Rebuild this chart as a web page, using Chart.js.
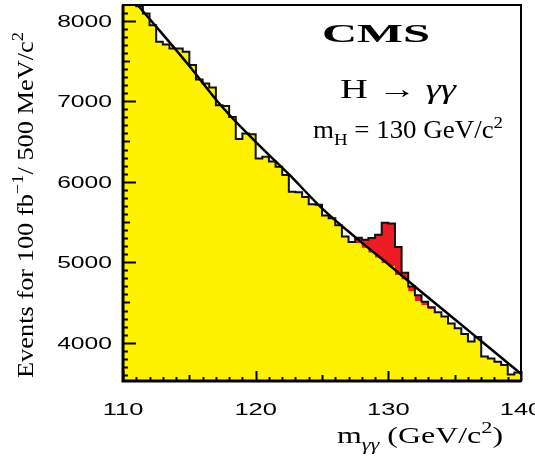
<!DOCTYPE html>
<html>
<head>
<meta charset="utf-8">
<script src="https://cdn.jsdelivr.net/npm/chart.js@4/dist/chart.umd.min.js"></script>
<style>
  html, body { margin: 0; padding: 0; background: #fff; }
  #wrap { width: 535px; height: 456px; }
</style>
</head>
<body>
<div id="wrap"><canvas id="massChart" width="535" height="456"></canvas></div>
<script>
/* ── data ── */
const binEdges = Array.from({ length: 61 }, (_, i) => 110 + i * 0.5);   // 500 MeV bins, 110–140 GeV

const background = [
  8300, 8250, 8180, 8090, 7945, 7740, 7705, 7655, 7655, 7615,
  7450, 7270, 7220, 7170, 6950, 6940, 6805, 6530, 6600, 6590,
  6290, 6310, 6250, 6185, 6085, 5875, 5870, 5810, 5720, 5715,
  5580, 5545, 5460, 5320, 5250, 5240, 5180, 5120, 5060, 4990,
  4950, 4840, 4790, 4640, 4520, 4470, 4420, 4380, 4325, 4240,
  4180, 4110, 4015, 4070, 3830, 3805, 3765, 3725, 3605, 3630,
];

const signal = [
  0, 0, 0, 0, 0, 0, 0, 0, 0, 0,
  0, 0, 0, 0, 0, 0, 0, 0, 0, 0,
  0, 0, 0, 0, 0, 0, 0, 0, 0, 0,
  0, 0, 0, 0, 0, 65, 100, 180, 280, 500,
  530, 350, 80, 60, 70, 40, 20, 0, 0, 0,
  0, 0, 0, 0, 0, 0, 0, 0, 0, 0,
];

const fitMass   = [111, 113, 115, 117.5, 120, 122.5, 125, 127.5, 130, 132.5, 135, 137.5, 140];
const fitEvents = [8215, 7830, 7438, 6925, 6495, 6093, 5670, 5312, 4975, 4630, 4292, 3953, 3615];

const xTicks = [110, 120, 130, 140];
const yTicks = [4000, 5000, 6000, 7000, 8000];

/* ── helpers ── */
function stepPoints(values) {
  const pts = values.map((v, i) => ({ x: binEdges[i], y: v }));
  pts.push({ x: binEdges[binEdges.length - 1], y: values[values.length - 1] });
  return pts;
}

const total = background.map((b, i) => b + signal[i]);

/** draw a string made of runs (sub/superscripts), stretched along the text */
function drawRuns(ctx, runs, x, y, o) {
  ctx.save();
  ctx.translate(x, y);
  if (o.angle) ctx.rotate(o.angle);
  const fontFor = (r) =>
    `${r[3] ? 'italic ' : ''}${o.weight || 'normal'} ${o.size * (r[1] || 1)}px ${o.family}`;
  let sum = 0;
  const widths = runs.map((r) => {
    ctx.font = fontFor(r);
    const w = ctx.measureText(r[0]).width;
    sum += w;
    return w;
  });
  const sx = o.width ? o.width / sum : (o.sx || 1);
  ctx.scale(sx, 1);
  let cx = o.align === 'center' ? -sum / 2 : o.align === 'right' ? -sum : 0;
  ctx.textAlign    = 'left';
  ctx.textBaseline = 'alphabetic';
  ctx.fillStyle    = '#000';
  runs.forEach((r, i) => {
    ctx.font = fontFor(r);
    ctx.fillText(r[0], cx, (r[2] || 0) * o.size);
    cx += widths[i];
  });
  ctx.restore();
}

const SERIF = '"Liberation Serif", "DejaVu Serif", serif';
const SANS  = '"Liberation Sans", Arial, sans-serif';

/* ── frame, ticks and text ── */
const decorations = {
  id: 'decorations',
  afterDraw(chart) {
    const { ctx, chartArea: a, scales: { x, y } } = chart;
    ctx.save();
    ctx.strokeStyle = '#000';
    ctx.lineWidth = 2;

    // y ticks (inside, on the left)
    for (let v = 3600; v <= 8100; v += 100) {
      const py = Math.round(y.getPixelForValue(v)) + 0.5;
      const len = v % 1000 === 0 ? 13 : v % 500 === 0 ? 7 : 5;
      ctx.beginPath();
      ctx.moveTo(a.left, py);
      ctx.lineTo(a.left + len, py);
      ctx.stroke();
    }
    // x ticks (inside, on the bottom)
    for (let v = 110; v <= 140; v += 1) {
      const px = Math.round(x.getPixelForValue(v)) + 0.5;
      const len = v % 10 === 0 ? 10 : v % 5 === 0 ? 6 : 4;
      ctx.beginPath();
      ctx.moveTo(px, a.bottom);
      ctx.lineTo(px, a.bottom - len);
      ctx.stroke();
    }

    // frame
    ctx.lineWidth = 2;
    ctx.strokeRect(a.left, a.top, a.right - a.left, a.bottom - a.top);
    ctx.lineWidth = 3;
    ctx.beginPath();
    ctx.moveTo(a.left, a.top);
    ctx.lineTo(a.left, a.bottom);
    ctx.lineTo(a.right, a.bottom);
    ctx.stroke();
    ctx.restore();

    // tick labels
    yTicks.forEach((v) => {
      drawRuns(ctx, [[String(v)]], 112, y.getPixelForValue(v) + 6,
        { size: 17, family: SANS, sx: 1.45, align: 'right' });
    });
    xTicks.forEach((v) => {
      drawRuns(ctx, [[String(v)]], x.getPixelForValue(v), 415,
        { size: 17, family: SANS, sx: 1.5, align: 'center' });
    });

    // axis titles
    drawRuns(ctx, [
      ['m'], ['γγ', 0.7, 0.28, true], [' (GeV/c'], ['2', 0.7, -0.42], [')'],
    ], 337, 443, { size: 24, family: SERIF, width: 166, align: 'left' });

    drawRuns(ctx, [
      ['Events for 100 fb'], ['−1', 0.7, -0.42], ['/ 500 MeV/c'], ['2', 0.7, -0.42],
    ], 33, 205, { size: 24, family: SERIF, width: 346, align: 'center', angle: -Math.PI / 2 });

    // labels in the plot
    drawRuns(ctx, [['CMS']], 376, 42,
      { size: 25, family: SERIF, weight: 'bold', width: 108, align: 'center' });
    drawRuns(ctx, [['H → '], ['γγ', 1, 0, true]], 340, 98,
      { size: 27, family: SERIF, width: 116, align: 'left' });
    drawRuns(ctx, [['m'], ['H', 0.7, 0.28], [' = 130 GeV/c'], ['2', 0.7, -0.42]], 313, 138,
      { size: 25, family: SERIF, width: 190, align: 'left' });
  },
};

/* ── chart ── */
new Chart(document.getElementById('massChart'), {
  type: 'line',
  data: {
    datasets: [
      {
        label: 'signal + background',
        data: stepPoints(total),
        stepped: 'before',
        fill: 'origin',
        backgroundColor: '#ed1c24',
        borderWidth: 0,
        pointRadius: 0,
        order: 4,
      },
      {
        label: 'background',
        data: stepPoints(background),
        stepped: 'before',
        fill: 'origin',
        backgroundColor: '#fff200',
        borderWidth: 0,
        pointRadius: 0,
        order: 3,
      },
      {
        label: 'outline',
        data: stepPoints(total),
        stepped: 'before',
        fill: false,
        borderColor: '#111',
        borderWidth: 2,
        pointRadius: 0,
        order: 2,
      },
      {
        label: 'fit',
        data: fitMass.map((m, i) => ({ x: m, y: fitEvents[i] })),
        fill: false,
        borderColor: '#000',
        borderWidth: 2.5,
        cubicInterpolationMode: 'monotone',
        pointRadius: 0,
        order: 1,
      },
    ],
  },
  options: {
    responsive: false,
    animation:  false,
    devicePixelRatio: 1,
    layout: { padding: { left: 123, right: 14, top: 5, bottom: 75 } },
    plugins: {
      legend:  { display: false },
      tooltip: { enabled: false },
    },
    scales: {
      x: { type: 'linear', min: 110, max: 140, display: false },
      y: { type: 'linear', min: 3525, max: 8195, display: false },
    },
  },
  plugins: [decorations],
});
</script>
</body>
</html>
